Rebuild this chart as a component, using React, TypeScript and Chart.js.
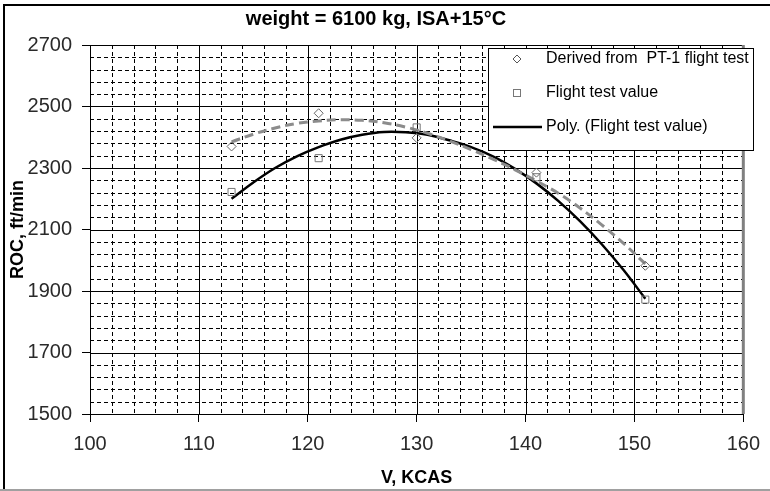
import React, { useEffect, useRef } from "react";
import { Chart, registerables } from "chart.js";

Chart.register(...registerables);

// Chart text
const chartTitle = "weight = 6100 kg, ISA+15°C";
const xAxisTitle = "V, KCAS";
const yAxisTitle = "ROC, ft/min";
const derivedLabel = "Derived from  PT-1 flight test";
const flightLabel = "Flight test value";
const flightTrendLabel = "Poly. (Flight test value)";
const derivedTrendLabel = "Poly. (Derived from  PT-1 flight test)";

// Measured points (KCAS, ft/min)
const testSpeeds = [113, 121, 130, 141, 151];
const derivedRoc = [2370, 2478, 2398, 2285, 1982];
const flightRoc = [2222, 2332, 2432, 2270, 1872];

// Trend curves sampled along the speed range
const trendSpeeds = [113, 115, 117, 119, 121, 123, 125, 127, 129, 131, 133, 135, 137, 139, 141, 143, 145, 147, 149, 151];
const flightTrend = [2200, 2253, 2300, 2338, 2368, 2392, 2408, 2417, 2416, 2408, 2390, 2368, 2338, 2298, 2250, 2193, 2127, 2052, 1968, 1875];
const derivedTrend = [2385, 2410, 2430, 2445, 2453, 2457, 2455, 2447, 2433, 2413, 2388, 2360, 2329, 2295, 2258, 2218, 2170, 2115, 2055, 1988];

// Axis ranges and grid spacing
const xMin = 100, xMax = 160, xMajor = 10, xMinor = 2;
const yMin = 1500, yMax = 2700, yMajor = 200, yMinor = 40;

const FONT = '"Liberation Sans", Arial, sans-serif';

const toXY = (xs: number[], ys: number[]) => xs.map((v, i) => ({ x: v, y: ys[i] }));

// Excel-style grid: solid major lines, dashed minor lines
const gridPlugin = {
  id: "excelGrid",
  beforeDatasetsDraw(chart: any) {
    const { ctx, chartArea, scales } = chart;
    const { left, right, top, bottom } = chartArea;
    const xs = scales.x, ys = scales.y;
    const line = (x1: number, y1: number, x2: number, y2: number) => {
      ctx.beginPath();
      ctx.moveTo(x1, y1);
      ctx.lineTo(x2, y2);
      ctx.stroke();
    };
    ctx.save();
    ctx.lineWidth = 1;
    ctx.strokeStyle = "#000";
    ctx.setLineDash([4, 3]);
    for (let v = xMin + xMinor; v < xMax; v += xMinor) {
      if (v % xMajor === 0) continue;
      const px = Math.round(xs.getPixelForValue(v)) + 0.5;
      line(px, top, px, bottom);
    }
    for (let v = yMin + yMinor; v < yMax; v += yMinor) {
      if (v % yMajor === 0) continue;
      const py = Math.round(ys.getPixelForValue(v)) + 0.5;
      line(left, py, right, py);
    }
    ctx.setLineDash([]);
    for (let v = xMin + xMajor; v < xMax; v += xMajor) {
      const px = Math.round(xs.getPixelForValue(v)) + 0.5;
      line(px, top, px, bottom);
    }
    for (let v = yMin + yMajor; v < yMax; v += yMajor) {
      const py = Math.round(ys.getPixelForValue(v)) + 0.5;
      line(left, py, right, py);
    }
    ctx.restore();
  },
};

// Frame, plot border, title and the legend box inside the plot
const decorPlugin = {
  id: "excelDecor",
  afterDraw(chart: any) {
    const { ctx, chartArea, width, height } = chart;
    const { left, right, top } = chartArea;
    ctx.save();
    // plot area border
    ctx.strokeStyle = "#000";
    ctx.lineWidth = 1;
    ctx.beginPath();
    ctx.moveTo(left, Math.round(top) + 0.5);
    ctx.lineTo(right, Math.round(top) + 0.5);
    ctx.stroke();
    ctx.strokeStyle = "#808080";
    ctx.lineWidth = 3;
    ctx.beginPath();
    ctx.moveTo(right, top);
    ctx.lineTo(right, chartArea.bottom);
    ctx.stroke();

    // outer frame
    ctx.strokeStyle = "#000";
    ctx.lineWidth = 2;
    ctx.beginPath();
    ctx.moveTo(4, height - 1);
    ctx.lineTo(4, 5);
    ctx.lineTo(width, 5);
    ctx.stroke();
    ctx.strokeStyle = "#a0a0a0";
    ctx.beginPath();
    ctx.moveTo(0, height - 1);
    ctx.lineTo(width, height - 1);
    ctx.stroke();

    // title
    ctx.fillStyle = "#000";
    ctx.font = `bold 20px ${FONT}`;
    ctx.textAlign = "center";
    ctx.textBaseline = "alphabetic";
    ctx.fillText(chartTitle, 376, 25);

    // legend
    const bx = 488.5, by = 48.5, bw = 265, bh = 102;
    ctx.fillStyle = "#fff";
    ctx.fillRect(bx, by, bw, bh);
    ctx.strokeStyle = "#000";
    ctx.lineWidth = 1;
    ctx.strokeRect(bx, by, bw, bh);
    const ds = chart.data.datasets;
    const rowY = [59, 93, 127];
    const sx = 517, tx = 546;
    // diamond
    ctx.strokeStyle = "#555";
    ctx.lineWidth = 1;
    ctx.beginPath();
    ctx.moveTo(sx, rowY[0] - 4);
    ctx.lineTo(sx + 4, rowY[0]);
    ctx.lineTo(sx, rowY[0] + 4);
    ctx.lineTo(sx - 4, rowY[0]);
    ctx.closePath();
    ctx.stroke();
    // square
    ctx.strokeStyle = "#777";
    ctx.strokeRect(sx - 3.5, rowY[1] - 3.5, 7, 7);
    // line
    ctx.strokeStyle = "#000";
    ctx.lineWidth = 2.5;
    ctx.beginPath();
    ctx.moveTo(493, rowY[2]);
    ctx.lineTo(542, rowY[2]);
    ctx.stroke();

    ctx.fillStyle = "#000";
    ctx.font = `16px ${FONT}`;
    ctx.textAlign = "left";
    ctx.textBaseline = "middle";
    ctx.fillText(ds[0].label, tx, rowY[0]);
    ctx.fillText(ds[1].label, tx, rowY[1]);
    ctx.fillText(ds[2].label, tx, rowY[2]);
    ctx.restore();
  },
};

export default function App() {
  const canvasRef = useRef<HTMLCanvasElement | null>(null);

  useEffect(() => {
    const canvas = canvasRef.current;
    if (!canvas) return;
    const chart = new Chart(canvas, {
      type: "scatter",
      data: {
        datasets: [
          {
            label: derivedLabel,
            data: toXY(testSpeeds, derivedRoc),
            showLine: false,
            pointStyle: "rectRot",
            pointRadius: 4.5,
            pointBorderWidth: 1,
            pointBorderColor: "#666",
            pointBackgroundColor: "rgba(255,255,255,0)",
            order: 0,
          },
          {
            label: flightLabel,
            data: toXY(testSpeeds, flightRoc),
            showLine: false,
            pointStyle: "rect",
            pointRadius: 5,
            pointBorderWidth: 1,
            pointBorderColor: "#777",
            pointBackgroundColor: "rgba(255,255,255,0)",
            order: 1,
          },
          {
            label: flightTrendLabel,
            data: toXY(trendSpeeds, flightTrend),
            showLine: true,
            borderColor: "#000",
            borderWidth: 2.5,
            pointRadius: 0,
            tension: 0.4,
            order: 3,
          },
          {
            label: derivedTrendLabel,
            data: toXY(trendSpeeds, derivedTrend),
            showLine: true,
            borderColor: "#8c8c8c",
            borderWidth: 3,
            borderDash: [9, 5],
            pointRadius: 0,
            tension: 0.4,
            order: 2,
          },
        ],
      },
      options: {
        animation: false,
        responsive: false,
        maintainAspectRatio: false,
        events: [],
        layout: { padding: { top: 45, right: 26, left: 0, bottom: 0 } },
        plugins: {
          legend: { display: false },
          title: { display: false },
          tooltip: { enabled: false },
        },
        scales: {
          x: {
            type: "linear",
            min: xMin,
            max: xMax,
            ticks: {
              stepSize: xMajor,
              color: "#2a2a2a",
              font: { family: FONT, size: 20 },
              padding: 10,
              maxRotation: 0,
              autoSkip: false,
              callback: (v: any) => String(v),
            },
            grid: { drawOnChartArea: false, drawTicks: true, tickLength: 8, tickColor: "#000" },
            border: { display: true, color: "#000", width: 1 },
            title: {
              display: true,
              text: xAxisTitle,
              color: "#000",
              font: { family: FONT, size: 18, weight: "bold" },
              padding: { top: 0, bottom: 2 },
            },
            afterFit: (scale: any) => {
              scale.height = 77;
            },
          },
          y: {
            type: "linear",
            min: yMin,
            max: yMax,
            ticks: {
              stepSize: yMajor,
              color: "#2a2a2a",
              font: { family: FONT, size: 20 },
              padding: 10,
              autoSkip: false,
              callback: (v: any) => String(v),
            },
            grid: { drawOnChartArea: false, drawTicks: true, tickLength: 8, tickColor: "#000" },
            border: { display: true, color: "#000", width: 1 },
            title: {
              display: true,
              text: yAxisTitle,
              color: "#000",
              font: { family: FONT, size: 18, weight: "bold" },
              padding: { top: 7, bottom: 0 },
            },
            afterFit: (scale: any) => {
              scale.width = 90;
            },
          },
        },
      },
      plugins: [gridPlugin, decorPlugin],
    } as any);
    return () => chart.destroy();
  }, []);

  return (
    <div style={{ position: "fixed", left: 0, top: 0, width: 770, height: 491, background: "#fff" }}>
      <canvas ref={canvasRef} width={770} height={491} style={{ display: "block", width: 770, height: 491 }} />
    </div>
  );
}
